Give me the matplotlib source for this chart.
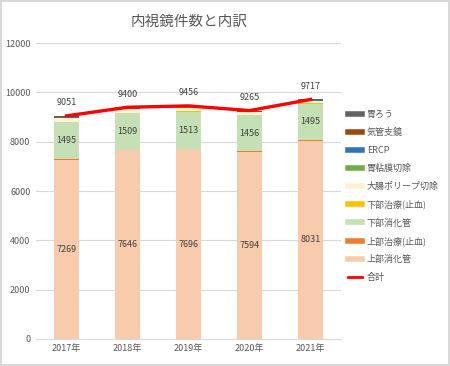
import numpy as np
import matplotlib
matplotlib.use('Agg')
import matplotlib.pyplot as plt
from matplotlib.lines import Line2D

plt.rcParams['font.family'] = ['Noto Sans CJK JP', 'DejaVu Sans']

years = ['2017年', '2018年', '2019年', '2020年', '2021年']

# stacked series, bottom to top
upper      = [7269, 7646, 7696, 7594, 8031]   # 上部消化管
upper_tx   = [20, 15, 15, 30, 25]             # 上部治療(止血)
lower      = [1495, 1509, 1513, 1456, 1495]   # 下部消化管
lower_tx   = [10, 10, 10, 10, 8]              # 下部治療(止血)
polyp      = [160, 130, 135, 100, 90]         # 大腸ポリープ切除
esd        = [25, 25, 25, 20, 20]             # 胃粘膜切除
ercp       = [20, 20, 20, 15, 15]             # ERCP
bronch     = [35, 25, 25, 25, 20]             # 気管支鏡
peg        = [17, 20, 17, 15, 13]             # 胃ろう
total      = [9051, 9400, 9456, 9265, 9717]   # 合計

series = [
    ('上部消化管', upper, '#F8CBAD'),
    ('上部治療(止血)', upper_tx, '#ED7D31'),
    ('下部消化管', lower, '#C5E0B4'),
    ('下部治療(止血)', lower_tx, '#FFC000'),
    ('大腸ポリープ切除', polyp, '#FFF2CC'),
    ('胃粘膜切除', esd, '#70AD47'),
    ('ERCP', ercp, '#2E75B6'),
    ('気管支鏡', bronch, '#9E480E'),
    ('胃ろう', peg, '#636363'),
]

TXT = '#595959'
fig = plt.figure(figsize=(4.5, 3.66), dpi=100, edgecolor='#D9D9D9', linewidth=1.5)
ax = fig.add_axes([0.08, 0.074, 0.678, 0.808])

x = np.arange(len(years))
bottom = np.zeros(len(years))
for name, vals, col in series:
    vals = np.array(vals, dtype=float)
    ax.bar(x, vals, 0.41, bottom=bottom, color=col, zorder=2)
    if name in ('上部消化管', '下部消化管'):
        for xi, b, v in zip(x, bottom, vals):
            ax.text(xi, b + v / 2, f'{int(v)}', ha='center', va='center',
                    fontsize=6.5, color='#404040', zorder=4)
    bottom += vals

ax.plot(x, total, color='#FF0000', lw=2.4, zorder=3)
for xi, t in zip(x, total):
    ax.text(xi, t + 350, f'{t}', ha='center', va='bottom', fontsize=6.5,
            color='#404040', zorder=4)

ax.set_xlim(-0.5, len(years) - 0.5)
ax.set_ylim(0, 12000)
ax.set_yticks(np.arange(0, 12001, 2000))
ax.set_xticks(x)
ax.set_xticklabels(years)
ax.tick_params(axis='both', length=0, labelsize=6.5, colors=TXT, pad=4)
ax.grid(axis='y', color='#D9D9D9', lw=0.8, zorder=0)
for s in ('top', 'right', 'left'):
    ax.spines[s].set_visible(False)
ax.spines['bottom'].set_color('#D9D9D9')

fig.suptitle('内視鏡件数と内訳', x=0.42, y=0.96, fontsize=10.5, color=TXT)

handles = [Line2D([], [], color=c, lw=4) for _, _, c in series[::-1]]
labels = [n for n, _, _ in series[::-1]]
handles.append(Line2D([], [], color='#FF0000', lw=2))
labels.append('合計')
fig.legend(handles, labels, loc='center left', bbox_to_anchor=(0.755, 0.464),
           frameon=False, fontsize=6.5, labelcolor=TXT, handlelength=1.6,
           handletextpad=0.5, labelspacing=0.98)

fig.savefig('out.png', dpi=100, edgecolor=fig.get_edgecolor())
